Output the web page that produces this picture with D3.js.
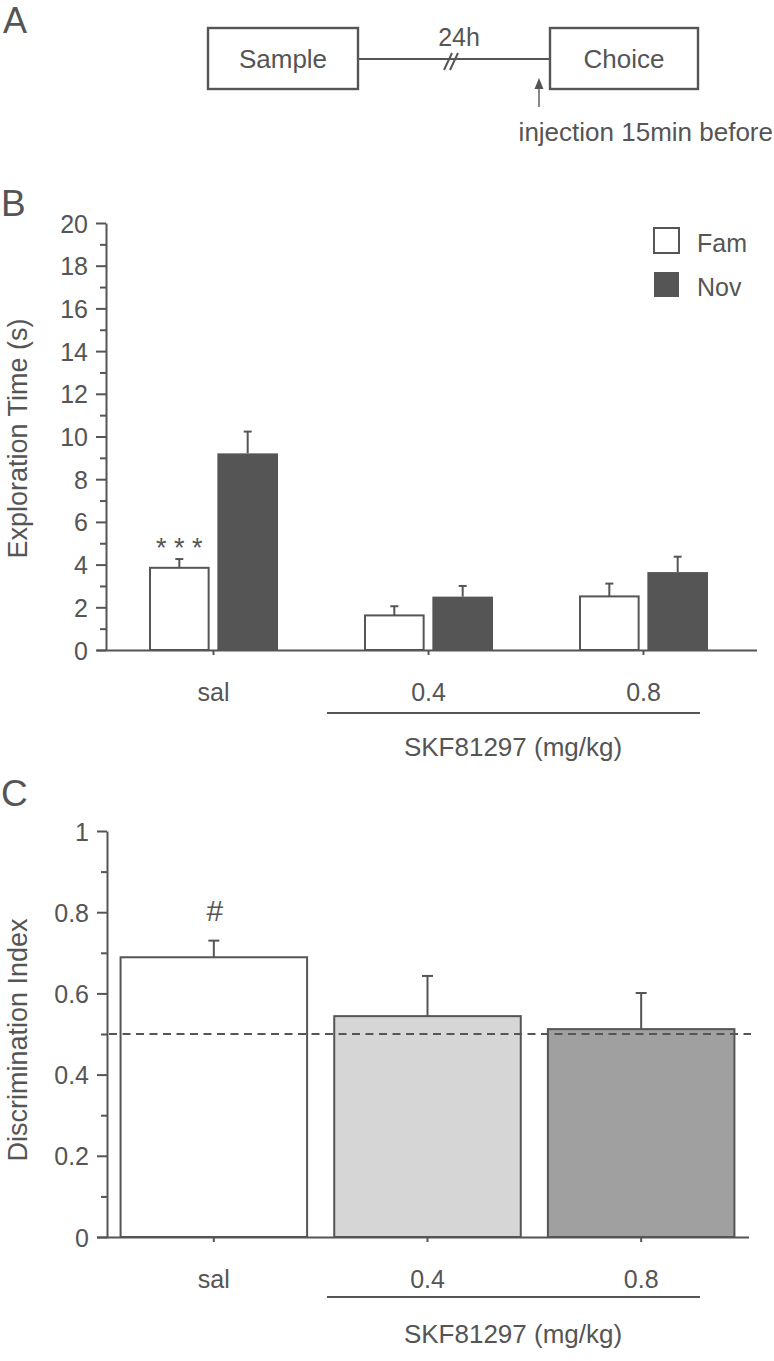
<!DOCTYPE html>
<html>
<head>
<meta charset="utf-8">
<script src="https://cdn.jsdelivr.net/npm/d3@7"></script>
<style>
  html, body { margin: 0; padding: 0; background: #fff; }
  svg { display: block; }
  text { font-family: Arial, "Liberation Sans", Helvetica, sans-serif; fill: #555; }
</style>
</head>
<body>
<svg id="chart" width="774" height="1361"></svg>
<script>
// ---------- data ----------
const categories = ["sal", "0.4", "0.8"];
const groups = ["Fam", "Nov"];
const famMeans = [3.85, 1.62, 2.51];
const famErr   = [0.41, 0.43, 0.60];
const novMeans = [9.21, 2.50, 3.65];
const novErr   = [1.02, 0.50, 0.72];
const diMeans  = [0.689, 0.544, 0.512];
const diErr    = [0.041, 0.099, 0.089];
const chanceLevel = 0.5;
const bMajorTicks = [0, 2, 4, 6, 8, 10, 12, 14, 16, 18, 20];
const bMinorTicks = [1, 3, 5, 7, 9, 11, 13, 15, 17, 19];
const cMajorTicks = [0, 0.2, 0.4, 0.6, 0.8, 1];
const cMinorTicks = [0.1, 0.3, 0.5, 0.7, 0.9];

const INK = "#555";
const svg = d3.select("#chart");
const FONT = 25;

// ---------- panel A: timeline ----------
svg.append("text").attr("x", 3).attr("y", 33).style("font-size", "36px").text("A");
const gA = svg.append("g");
gA.append("line").attr("x1", 358).attr("x2", 550).attr("y1", 59).attr("y2", 59)
  .attr("stroke", INK).attr("stroke-width", 2.2);
[[208, 358, "Sample"], [550, 698, "Choice"]].forEach(([x0, x1, t]) => {
  gA.append("rect").attr("x", x0).attr("y", 28).attr("width", x1 - x0).attr("height", 61)
    .attr("fill", "#fff").attr("stroke", INK).attr("stroke-width", 2.4);
  gA.append("text").attr("x", (x0 + x1) / 2).attr("y", 68).attr("text-anchor", "middle")
    .style("font-size", "26px").text(t);
});
[[444, 450], [450, 456]].forEach(([a, b]) => {
  gA.append("line").attr("x1", a).attr("y1", 70).attr("x2", b + 2).attr("y2", 53)
    .attr("stroke", INK).attr("stroke-width", 2);
});
gA.append("text").attr("x", 459).attr("y", 46).attr("text-anchor", "middle")
  .style("font-size", "25px").text("24h");
gA.append("line").attr("x1", 539).attr("x2", 539).attr("y1", 107).attr("y2", 86)
  .attr("stroke", INK).attr("stroke-width", 1.4);
gA.append("path").attr("d", "M539,78 L543.5,89 L534.5,89 Z").attr("fill", INK);
gA.append("text").attr("x", 773).attr("y", 141).attr("text-anchor", "end")
  .style("font-size", "26px").text("injection 15min before");

// helper for axes
function styleAxis(g) {
  g.selectAll("path, line").attr("stroke", INK).attr("stroke-width", 2);
  g.selectAll("text").style("font-size", FONT + "px").attr("fill", INK)
    .style("font-family", 'Arial, "Liberation Sans", sans-serif');
}

// ---------- panel B ----------
svg.append("text").attr("x", 1).attr("y", 216).style("font-size", "37px").text("B");
const bTop = 223, bBot = 650, bLeft = 106, bRight = 751;
const xB = d3.scaleBand().domain(categories).range([bLeft, bRight]).padding(0);
const xBSub = d3.scaleBand().domain(groups).range([-64.5, 64.5]).paddingInner(0.113);
const yB = d3.scaleLinear().domain([0, 20]).range([bBot, bTop]);

const gB = svg.append("g");
const bData = [];
categories.forEach((c, i) => {
  bData.push({ cat: c, grp: "Fam", v: famMeans[i], e: famErr[i] });
  bData.push({ cat: c, grp: "Nov", v: novMeans[i], e: novErr[i] });
});
const bx = d => xB(d.cat) + xB.bandwidth() / 2 + xBSub(d.grp);
gB.selectAll(".errB").data(bData).join("g").each(function (d) {
  const cx = bx(d) + xBSub.bandwidth() / 2;
  const g = d3.select(this);
  g.append("line").attr("x1", cx).attr("x2", cx).attr("y1", yB(d.v)).attr("y2", yB(d.v + d.e))
    .attr("stroke", INK).attr("stroke-width", 2);
  g.append("line").attr("x1", cx - 4).attr("x2", cx + 4).attr("y1", yB(d.v + d.e)).attr("y2", yB(d.v + d.e))
    .attr("stroke", INK).attr("stroke-width", 2);
});
gB.selectAll(".barB").data(bData).join("rect")
  .attr("x", d => bx(d) + (d.grp === "Fam" ? 1 : 0))
  .attr("y", d => yB(d.v))
  .attr("width", d => xBSub.bandwidth() - (d.grp === "Fam" ? 2 : 0))
  .attr("height", d => bBot - yB(d.v))
  .attr("fill", d => d.grp === "Fam" ? "#fff" : INK)
  .attr("stroke", INK).attr("stroke-width", d => d.grp === "Fam" ? 2 : 0);

const yAxB = gB.append("g").attr("transform", `translate(${bLeft},0)`)
  .call(d3.axisLeft(yB).tickValues(bMajorTicks).tickSize(10).tickSizeOuter(0).tickPadding(8).tickFormat(d3.format("d")));
styleAxis(yAxB);
yAxB.selectAll("text").attr("dy", "0.36em");
const yMinB = gB.append("g").attr("transform", `translate(${bLeft},0)`)
  .call(d3.axisLeft(yB).tickValues(bMinorTicks).tickSize(6).tickSizeOuter(0).tickFormat(""));
styleAxis(yMinB);
yMinB.select(".domain").remove();
const xAxB = gB.append("g").attr("transform", `translate(0,${bBot})`)
  .call(d3.axisBottom(xB).tickSize(5).tickSizeOuter(0).tickPadding(28));
styleAxis(xAxB);
xAxB.select(".domain").attr("d", `M${bLeft - 9},0.5H757`);
gB.append("text").attr("x", bx(bData[0]) + xBSub.bandwidth() / 2).attr("y", 557)
  .attr("text-anchor", "middle").style("font-size", "27px").style("letter-spacing", "0px").text("* * *");
const legB = gB.append("g");
groups.forEach((g, i) => {
  legB.append("rect").attr("x", 654).attr("y", 228 + i * 44).attr("width", 25).attr("height", 25)
    .attr("fill", g === "Fam" ? "#fff" : INK).attr("stroke", INK).attr("stroke-width", g === "Fam" ? 2 : 0);
  legB.append("text").attr("x", 697).attr("y", 252 + i * 44).style("font-size", "25px").text(g);
});
gB.append("line").attr("x1", 327).attr("x2", 700).attr("y1", bBot + 63).attr("y2", bBot + 63)
  .attr("stroke", INK).attr("stroke-width", 2);
gB.append("text").attr("x", 513).attr("y", bBot + 106).attr("text-anchor", "middle")
  .style("font-size", "26px").text("SKF81297 (mg/kg)");
gB.append("text").attr("transform", `translate(27,${(bTop + bBot) / 2 + 2}) rotate(-90)`)
  .attr("text-anchor", "middle").style("font-size", "27px").text("Exploration Time (s)");

// ---------- panel C ----------
svg.append("text").attr("x", 1).attr("y", 806).style("font-size", "37px").text("C");
const cTop = 831, cBot = 1237, cLeft = 107, cRight = 748;
const xC = d3.scaleBand().domain(categories).range([cLeft, cRight]).paddingInner(0.127).paddingOuter(0.0635);
const yC = d3.scaleLinear().domain([0, 1]).range([cBot, cTop]);
const cFills = ["#fff", "#d6d6d6", "#a0a0a0"];
const cData = categories.map((c, i) => ({ cat: c, v: diMeans[i], e: diErr[i], fill: cFills[i] }));
const gC = svg.append("g");
gC.selectAll(".errC").data(cData).join("g").each(function (d) {
  const cx = xC(d.cat) + xC.bandwidth() / 2;
  const g = d3.select(this);
  g.append("line").attr("x1", cx).attr("x2", cx).attr("y1", yC(d.v)).attr("y2", yC(d.v + d.e))
    .attr("stroke", INK).attr("stroke-width", 2);
  g.append("line").attr("x1", cx - 5.5).attr("x2", cx + 5.5).attr("y1", yC(d.v + d.e)).attr("y2", yC(d.v + d.e))
    .attr("stroke", INK).attr("stroke-width", 2);
});
gC.selectAll(".barC").data(cData).join("rect")
  .attr("x", d => xC(d.cat)).attr("y", d => yC(d.v))
  .attr("width", xC.bandwidth()).attr("height", d => cBot - yC(d.v))
  .attr("fill", d => d.fill).attr("stroke", INK).attr("stroke-width", 2);
gC.append("line").attr("x1", cLeft + 2).attr("x2", 751).attr("y1", yC(chanceLevel)).attr("y2", yC(chanceLevel))
  .attr("stroke", INK).attr("stroke-width", 2).attr("stroke-dasharray", "8,5.5");
const yAxC = gC.append("g").attr("transform", `translate(${cLeft},0)`)
  .call(d3.axisLeft(yC).tickValues(cMajorTicks).tickSize(10).tickSizeOuter(0).tickPadding(8)
    .tickFormat(d => d === 0 || d === 1 ? d3.format("d")(d) : d3.format(".1f")(d)));
styleAxis(yAxC);
yAxC.selectAll("text").attr("dy", "0.36em");
const yMinC = gC.append("g").attr("transform", `translate(${cLeft},0)`)
  .call(d3.axisLeft(yC).tickValues(cMinorTicks).tickSize(6).tickSizeOuter(0).tickFormat(""));
styleAxis(yMinC);
yMinC.select(".domain").remove();
const xAxC = gC.append("g").attr("transform", `translate(0,${cBot})`)
  .call(d3.axisBottom(xC).tickSize(5).tickSizeOuter(0).tickPadding(28));
styleAxis(xAxC);
xAxC.select(".domain").attr("d", `M${cLeft - 10},0.5H749`);
gC.append("text").attr("x", xC("sal") + xC.bandwidth() / 2 + 1).attr("y", 921)
  .attr("text-anchor", "middle").style("font-size", "30px").text("#");
gC.append("line").attr("x1", 327).attr("x2", 700).attr("y1", cBot + 60).attr("y2", cBot + 60)
  .attr("stroke", INK).attr("stroke-width", 2);
gC.append("text").attr("x", 513).attr("y", cBot + 106).attr("text-anchor", "middle")
  .style("font-size", "26px").text("SKF81297 (mg/kg)");
gC.append("text").attr("transform", `translate(27,${(cTop + cBot) / 2 + 6}) rotate(-90)`)
  .attr("text-anchor", "middle").style("font-size", "27px").text("Discrimination Index");
</script>
</body>
</html>
